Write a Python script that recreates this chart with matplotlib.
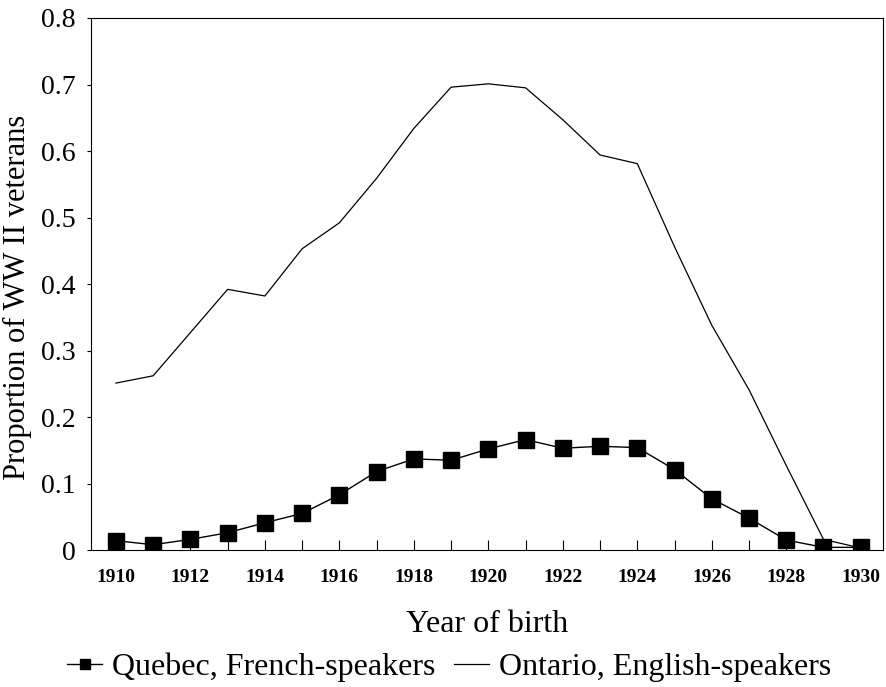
import numpy as np
import matplotlib.pyplot as plt
from matplotlib.ticker import FixedLocator, MultipleLocator

plt.rcParams['font.family'] = ['Liberation Serif', 'DejaVu Serif']

years = np.arange(1910, 1931)
quebec = [0.014, 0.008, 0.016, 0.026, 0.041, 0.055, 0.083, 0.118, 0.137, 0.135,
          0.152, 0.166, 0.153, 0.156, 0.154, 0.121, 0.077, 0.048, 0.015, 0.004, 0.004]
ontario = [0.251, 0.262, 0.327, 0.392, 0.382, 0.453, 0.492, 0.559, 0.634, 0.696,
           0.701, 0.695, 0.647, 0.594, 0.581, 0.456, 0.338, 0.241, 0.127, 0.016, 0.003]

fig = plt.figure(figsize=(8.86, 6.87), dpi=100)
ax = fig.add_axes([0.1027, 0.1994, 0.894, 0.7744])

ax.plot(years, quebec, color='black', lw=1.0, marker='s', ms=11,
        label='Quebec, French-speakers')
ax.plot(years, ontario, color='black', lw=0.9, label='Ontario, English-speakers')

ax.set_xlim(1909.33, 1930.6)
ax.set_ylim(0, 0.8)

# x: tick every year, label every other year
ax.xaxis.set_major_locator(FixedLocator(np.arange(1910, 1931, 2)))
ax.xaxis.set_minor_locator(MultipleLocator(1))
ax.tick_params(axis='x', which='both', direction='in', length=7, width=0.8, pad=14,
               labelsize=14)
for t in ax.get_xticklabels():
    t.set_fontweight('bold')

ax.set_yticks(np.arange(0, 0.81, 0.1))
ax.set_yticklabels(['0', '0.1', '0.2', '0.3', '0.4', '0.5', '0.6', '0.7', '0.8'])
ax.tick_params(axis='y', direction='out', length=3, width=0.8, labelsize=20, pad=8)

for s in ax.spines.values():
    s.set_linewidth(0.8)

ax.set_xlabel('Year of birth', fontsize=23, labelpad=17)
ax.set_ylabel('Proportion of WW II veterans', fontsize=22)
ax.yaxis.set_label_coords(-0.075, 0.475)

fig.legend(loc='lower center', bbox_to_anchor=(0.507, -0.035), ncol=2, frameon=False,
           fontsize=23, handlelength=1.1, handletextpad=0.3, columnspacing=0.6,
           markerscale=0.65)

fig.savefig('out.png', dpi=100)
